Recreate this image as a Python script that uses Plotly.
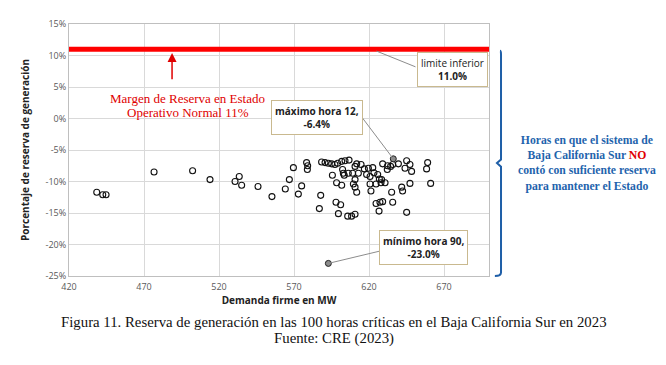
import plotly.graph_objects as go

# ---------------- data ----------------
demand_mw = [438.5, 442.5, 444.7, 476.7, 502.4, 514.0, 533.5, 530.7, 535.1, 546.0,
             555.3, 564.2, 566.9, 569.6, 572.9, 575.1, 578.4, 579.1, 578.9, 587.8,
             586.9, 588.4, 590.7, 592.9, 595.1, 597.3, 599.1, 601.8, 604.0, 606.7,
             595.6, 602.4, 602.9, 603.5, 606.2, 609.1, 610.7, 612.9, 614.7, 611.8,
             610.7, 609.6, 610.7, 611.8, 598.4, 601.8, 598.0, 601.1, 599.6, 605.8,
             608.4, 610.7, 616.9, 619.6, 622.5, 618.4, 620.7, 623.3, 625.8, 626.9,
             620.7, 624.7, 628.0, 629.1, 632.4, 624.7, 627.3, 626.7, 632.2, 634.4,
             635.8, 639.6, 645.1, 644.0, 647.3, 648.4, 659.1, 658.4, 628.4, 630.7,
             647.3, 661.1, 641.8, 642.4, 635.1, 629.1, 635.8, 645.1, 621.3]
reserve_pct = [-11.7, -12.1, -12.1, -8.5, -8.3, -9.7, -9.2, -10.0, -10.6, -10.8,
               -12.4, -11.2, -9.7, -7.8, -12.0, -10.7, -7.0, -7.5, -8.1, -12.2,
               -14.3, -6.9, -7.0, -7.1, -7.2, -7.3, -7.1, -6.8, -6.7, -6.6,
               -9.0, -8.1, -8.7, -9.0, -8.7, -8.7, -7.6, -8.7, -7.3, -7.2,
               -9.7, -10.4, -10.9, -11.7, -10.2, -10.6, -13.3, -13.7, -15.1, -15.5,
               -15.5, -15.2, -8.0, -7.9, -7.8, -8.9, -9.2, -8.6, -8.9, -9.6,
               -10.4, -10.4, -10.2, -7.2, -7.5, -13.5, -13.3, -14.7, -8.1, -7.6,
               -7.3, -7.2, -6.7, -7.9, -7.3, -8.4, -7.0, -8.0, -9.7, -10.2,
               -10.3, -10.3, -10.9, -11.5, -11.7, -13.2, -13.3, -14.9, -11.5]

max_point = (636.2, -6.4)    # máximo hora 12
min_point = (592.9, -23.0)   # mínimo hora 90
limit_pct = 11.0             # límite inferior

x_ticks = [420, 470, 520, 570, 620, 670]
y_ticks = [15, 10, 5, 0, -5, -10, -15, -20, -25]
x_range = [420, 700]
y_range = [-25, 15]

# --------------- figure ---------------
fig = go.Figure()

fig.add_trace(go.Scatter(
    x=demand_mw, y=reserve_pct, mode="markers",
    marker=dict(symbol="circle-open", size=6, color="#111111", line=dict(width=1.1)),
    showlegend=False, hoverinfo="x+y"))

fig.add_trace(go.Scatter(
    x=[max_point[0], min_point[0]], y=[max_point[1], min_point[1]], mode="markers",
    marker=dict(symbol="circle", size=6, color="#8c8c8c", line=dict(width=1, color="#222222")),
    showlegend=False))

# red 11% line
fig.add_trace(go.Scatter(
    x=x_range, y=[limit_pct, limit_pct], mode="lines",
    line=dict(color="#ff0000", width=5), showlegend=False, hoverinfo="skip"))

grid = "#d9d9d9"
tickfont = dict(family="Open Sans, DejaVu Sans", size=9, color="#595959")
fig.update_xaxes(range=x_range, tickvals=x_ticks, ticktext=[str(v) for v in x_ticks],
                 showgrid=True, gridcolor=grid, gridwidth=1, zeroline=False,
                 showline=True, linecolor="#bfbfbf", mirror=True, ticks="",
                 tickfont=tickfont, ticklabelstandoff=2,
                 title=dict(text="<b>Demanda firme en MW</b>", standoff=3,
                            font=dict(family="Open Sans, DejaVu Sans", size=10, color="#222222")))
fig.update_yaxes(range=y_range, tickvals=y_ticks, ticktext=[f"{v}%" for v in y_ticks],
                 showgrid=True, gridcolor=grid, gridwidth=1, zeroline=False,
                 showline=True, linecolor="#bfbfbf", mirror=True, ticks="",
                 tickfont=tickfont,
                 title=dict(text="<b>Porcentaje de reserva de generación</b>", standoff=14,
                            font=dict(family="Open Sans, DejaVu Sans", size=10, color="#222222")))

box_font = dict(family="Open Sans, DejaVu Sans", size=10, color="#222222")
box_border = "#c9b98f"

# leader lines
fig.add_shape(type="line", x0=max_point[0], y0=max_point[1], x1=614, y1=0.6,
              line=dict(color="#8c8c8c", width=1))
fig.add_shape(type="line", x0=min_point[0], y0=min_point[1], x1=628, y1=-21.0,
              line=dict(color="#8c8c8c", width=1))
fig.add_shape(type="line", x0=625, y0=limit_pct - 0.3, x1=651, y1=8.2,
              line=dict(color="#8c8c8c", width=1))

fig.add_annotation(x=585.3, y=0.1, text="<b>máximo hora 12,<br>-6.4%</b>", showarrow=False,
                   font=box_font, bgcolor="white", bordercolor=box_border, borderwidth=1,
                   borderpad=3)
fig.add_annotation(x=656.0, y=-20.4, text="<b>mínimo hora 90,<br>-23.0%</b>", showarrow=False,
                   font=box_font, bgcolor="white", bordercolor=box_border, borderwidth=1,
                   borderpad=3)
fig.add_annotation(x=675.5, y=7.7, text="limite inferior<br><b>11.0%</b>", showarrow=False,
                   font=box_font, bgcolor="white", bordercolor=box_border, borderwidth=1,
                   borderpad=3)

# red arrow and text
fig.add_annotation(x=488.7, y=10.4, ax=488.7, ay=6.0, axref="x", ayref="y",
                   xref="x", yref="y", text="", showarrow=True,
                   arrowhead=2, arrowsize=1.2, arrowwidth=1.5, arrowcolor="#e00000")
red_font = dict(family="Liberation Serif, Times New Roman", size=13, color="#e00000")
fig.add_annotation(x=499.3, y=3.1, text="Margen de Reserva en Estado", showarrow=False,
                   xanchor="center", yanchor="middle", font=red_font)
fig.add_annotation(x=499.3, y=0.9, text="Operativo Normal 11%", showarrow=False,
                   xanchor="center", yanchor="middle", font=red_font)

# blue bracket (paper coords)
fig.add_shape(type="path", xref="paper", yref="paper",
              path="M 1.0262,0.894 Q 1.0286,0.894 1.0286,0.88 L 1.0286,0.462 "
                   "L 1.0190,0.448 L 1.0286,0.434 L 1.0286,0.014 Q 1.0286,0.0 1.0140,0.0",
              line=dict(color="#1f5fa8", width=2))

fig.add_annotation(xref="paper", yref="paper", x=1.234, y=0.445,
                   xanchor="center", yanchor="middle",
                   text="Horas en que el sistema de<br>Baja California Sur <span style='color:#e00000'>NO</span><br>"
                        "contó con suficiente reserva<br>para mantener el Estado",
                   showarrow=False, align="center",
                   font=dict(family="Liberation Serif, Times New Roman", size=11.7, color="#1f64ad",
                             weight="bold"))

# caption
cap_font = dict(family="Liberation Serif, Times New Roman", size=14.8, color="#111111")
fig.add_annotation(xref="paper", yref="paper", x=0.632, y=-(315 - 268) / 259,
                   xanchor="center", yanchor="middle", showarrow=False,
                   text="Figura 11. Reserva de generación en las 100 horas críticas en el Baja California Sur en 2023",
                   font=cap_font)
fig.add_annotation(xref="paper", yref="paper", x=0.632, y=-(332 - 268) / 259,
                   xanchor="center", yanchor="middle", showarrow=False,
                   text="Fuente: CRE (2023)", font=cap_font)

fig.update_layout(width=650, height=349, margin=dict(l=61, r=169, t=9, b=81),
                  paper_bgcolor="white", plot_bgcolor="white", showlegend=False)

fig.write_html("out.html")
